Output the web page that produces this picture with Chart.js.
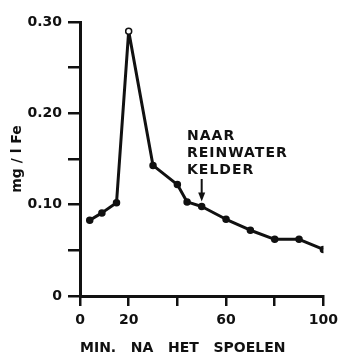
<!DOCTYPE html>
<html>
<head>
<meta charset="utf-8">
<script src="https://cdn.jsdelivr.net/npm/chart.js@4/dist/chart.umd.min.js"></script>
<style>
  html, body { margin: 0; padding: 0; background: #fff; }
  #wrap { width: 344px; height: 357px; }
</style>
</head>
<body>
<div id="wrap"><canvas id="feChart"></canvas></div>
<script>
// minuten na het spoelen en ijzergehalte (mg/l Fe)
const minutes = [4, 9, 15, 20, 30, 40, 44, 50, 60, 70, 80, 90, 100];
const iron = [0.083, 0.091, 0.102, 0.290, 0.143, 0.122, 0.103, 0.098, 0.084, 0.072, 0.062, 0.062, 0.051];
const xLabels = [0, 20, 60, 100];
const noteLines = ['NAAR', 'REINWATER', 'KELDER'];
const noteAt = 50;

const ink = '#111';
const font = 'DejaVu Sans';

const note = {
    id: 'note',
    afterDraw(chart) {
        const ctx = chart.ctx;
        const x = chart.scales.x.getPixelForValue(noteAt);
        const idx = minutes.indexOf(noteAt);
        const tip = chart.scales.y.getPixelForValue(iron[idx]) - 5;
        ctx.save();
        ctx.fillStyle = ink;
        ctx.strokeStyle = ink;
        ctx.font = 'bold 14px "' + font + '"';
        ctx.letterSpacing = '1px';
        ctx.textAlign = 'left';
        ctx.textBaseline = 'alphabetic';
        noteLines.forEach((t, i) => ctx.fillText(t, 187, 140 + i * 17));
        // pijl
        ctx.lineWidth = 2;
        ctx.beginPath();
        ctx.moveTo(x, 179);
        ctx.lineTo(x, tip - 6);
        ctx.stroke();
        ctx.beginPath();
        ctx.moveTo(x - 3.5, tip - 9);
        ctx.lineTo(x + 3.5, tip - 9);
        ctx.lineTo(x, tip);
        ctx.closePath();
        ctx.fill();
        ctx.restore();
    }
};

const ctx = document.getElementById('feChart').getContext('2d');
new Chart(ctx, {
    type: 'line',
    data: {
        datasets: [{
            data: minutes.map((m, i) => ({ x: m, y: iron[i] })),
            borderColor: ink,
            borderWidth: 3,
            borderJoinStyle: 'round',
            tension: 0,
            pointRadius: 3,
            pointBorderWidth: 1.5,
            pointBorderColor: ink,
            pointBackgroundColor: c => (iron[c.dataIndex] === Math.max(...iron) ? '#fff' : ink)
        }]
    },
    options: {
        responsive: true,
        maintainAspectRatio: false,
        animation: false,
        layout: { padding: { top: 22, right: 19, left: 0, bottom: 0 } },
        plugins: { legend: { display: false }, tooltip: { enabled: false } },
        scales: {
            x: {
                type: 'linear',
                min: 0,
                max: 100,
                afterFit: s => { s.height = 61; },
                border: { color: ink, width: 3 },
                grid: { drawOnChartArea: false, color: ink, lineWidth: 2.5, tickLength: 10 },
                ticks: {
                    stepSize: 20,
                    padding: 6,
                    color: ink,
                    maxRotation: 0,
                    font: { family: font, size: 14, weight: 'bold' },
                    callback: v => (xLabels.includes(v) ? String(v) : '')
                },
                title: {
                    display: true,
                    text: 'MIN.   NA   HET   SPOELEN',
                    align: 'start',
                    color: ink,
                    padding: { top: 0, bottom: 0 },
                    font: { family: font, size: 14, weight: 'bold' }
                }
            },
            y: {
                min: 0,
                max: 0.3,
                afterFit: s => { s.width = 80; },
                border: { color: ink, width: 3 },
                grid: { drawOnChartArea: false, color: ink, lineWidth: 2.5, tickLength: 12 },
                ticks: {
                    stepSize: 0.05,
                    padding: 6,
                    color: ink,
                    font: { family: font, size: 14, weight: 'bold' },
                    callback: v => {
                        const n = Math.round(v * 100);
                        if (n % 10 !== 0) return '';
                        return n === 0 ? '0' : (n / 100).toFixed(2);
                    }
                },
                title: {
                    display: true,
                    text: 'mg / l Fe',
                    color: ink,
                    padding: { top: 8.5, bottom: 0 },
                    font: { family: font, size: 14, weight: 'bold' }
                }
            }
        }
    },
    plugins: [note]
});
</script>
</body>
</html>
